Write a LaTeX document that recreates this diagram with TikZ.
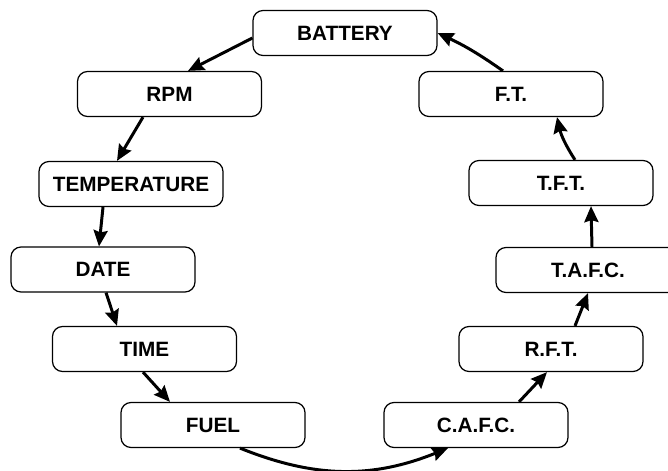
\documentclass[tikz,border=0pt]{standalone}
\usepackage{fontspec}
\setmainfont{Liberation Sans}
\usetikzlibrary{arrows.meta,positioning}

\begin{document}
\begin{tikzpicture}[
  box/.style={draw,rounded corners=0.2cm,line width=0.7pt,minimum width=3.68cm,minimum height=0.9cm,font=\fontsize{11.8}{13}\selectfont\bfseries},
  flow/.style={line width=1.7pt,-{Stealth[length=3.2mm,width=2.8mm,inset=0.4mm]}}
]
\useasboundingbox (0,0) rectangle (13.36,9.4);
\clip (0,0) rectangle (13.36,9.4);

% Left side
\node[box] (battery) at (6.9,8.74) {BATTERY};
\node[box] (rpm) at (3.39,7.52) {RPM};
\node[box] (temp) at (2.62,5.72) {TEMPERATURE};
\node[box] (date) at (2.06,4.01) {DATE};
\node[box] (time) at (2.89,2.42) {TIME};
\node[box] (fuel) at (4.26,0.9) {FUEL};

% Right side
\node[box] (cafc) at (9.52,0.9) {C.A.F.C.};
\node[box] (rft) at (11.02,2.42) {R.F.T.};
\node[box] (tafc) at (11.76,4.0) {T.A.F.C.};
\node[box] (tft) at (11.22,5.74) {T.F.T.};
\node[box] (ft) at (10.22,7.52) {F.T.};

% Down the left
\draw[flow] ([yshift=-0.1cm]battery.west) -- ([xshift=0.37cm]rpm.north);
\draw[flow] ([xshift=-0.53cm]rpm.south) -- ([xshift=-0.28cm]temp.north);
\draw[flow] ([xshift=-0.56cm]temp.south) -- ([xshift=-0.08cm]date.north);
\draw[flow] ([xshift=0.06cm]date.south) -- ([xshift=-0.55cm]time.north);
\draw[flow] ([xshift=-0.03cm]time.south) -- ([xshift=-0.86cm]fuel.north);

% Across the bottom
\draw[flow] ([xshift=0.54cm]fuel.south) to[bend right=22] ([xshift=-0.56cm]cafc.south);

% Up the right
\draw[flow] ([xshift=0.86cm]cafc.north) -- ([xshift=-0.08cm]rft.south);
\draw[flow] ([xshift=0.48cm]rft.north) -- (tafc.south);
\draw[flow] ([xshift=0.08cm]tafc.north) -- ([xshift=0.6cm]tft.south);
\draw[flow] ([xshift=0.28cm]tft.north) to[bend left=10] ([xshift=0.92cm]ft.south);
\draw[flow] ([xshift=-0.16cm]ft.north) to[bend right=5] (battery.east);
\end{tikzpicture}
\end{document}
